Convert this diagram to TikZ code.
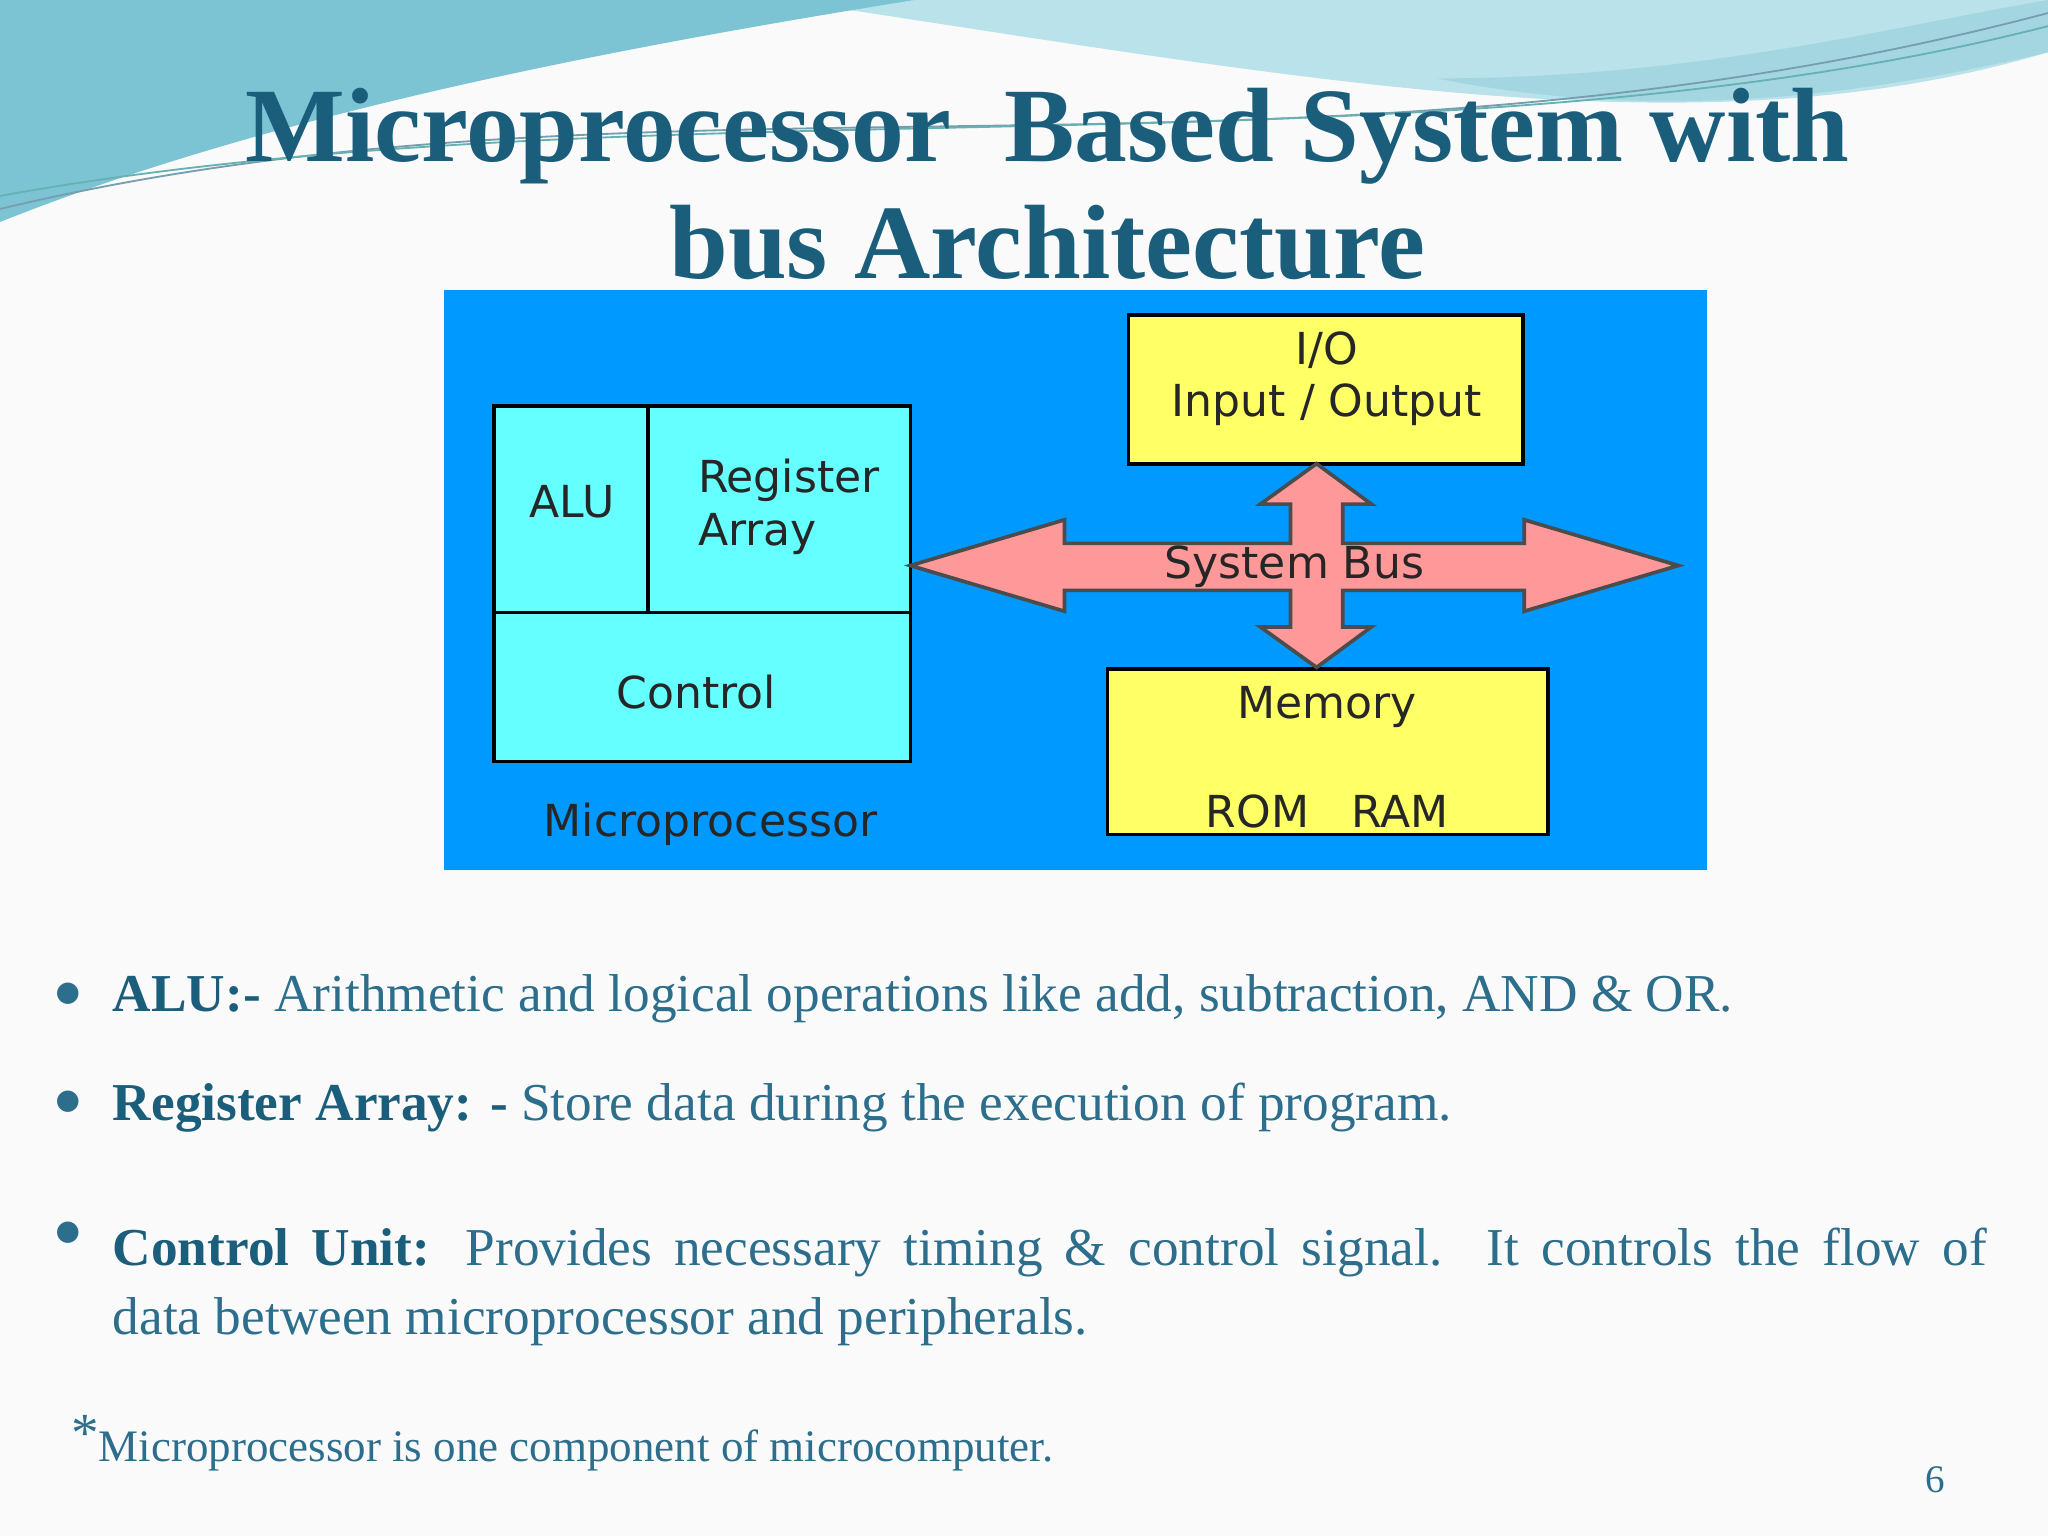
\documentclass[tikz,border=0pt]{standalone}
\usepackage{fontspec}
\setmainfont{Liberation Serif}
\newfontfamily\diagfont{DejaVu Sans}
\definecolor{titleteal}{HTML}{1B5E7B}
\definecolor{bodyteal}{HTML}{2C6E8C}
\definecolor{busblue}{HTML}{0099FF}
\definecolor{cpucyan}{HTML}{66FFFF}
\definecolor{boxyellow}{HTML}{FFFF66}
\definecolor{buspink}{HTML}{FF9999}
\definecolor{waveA}{HTML}{7CC4D4}
\definecolor{waveB}{HTML}{B9E2EA}
\tikzset{
	unit/.style={draw=black,thick,fill=cpucyan},
	part/.style={draw=black,thick,fill=boxyellow},
	lbl/.style={font=\diagfont\fontsize{9.6}{11.5}\selectfont,text=black!85},
	bullet/.style={anchor=west,font=\fontsize{11.6}{15}\selectfont,text=bodyteal},
}
\begin{document}
\begin{tikzpicture}[x=0.01cm,y=-0.01cm]
	\useasboundingbox (0,0) rectangle (1568,1176);
	\fill[white!96!gray] (0,0) rectangle (1568,1176);
	% waves
	\fill[waveB] (600,0) -- (1568,0) -- (1568,40) .. controls (1300,120) and (1000,60) .. (600,0);
	\fill[waveA] (0,0) -- (700,0) .. controls (450,40) and (200,90) .. (0,170) -- cycle;
	\fill[waveA!70!white] (1100,60) .. controls (1300,60) and (1450,20) .. (1568,0) -- (1568,40) .. controls (1400,80) and (1250,90) .. (1100,60);
	\draw[titleteal!60] (0,160) .. controls (500,40) and (1000,160) .. (1568,10);
	\draw[teal!60] (0,150) .. controls (500,60) and (1100,140) .. (1568,20);
	% title
	\node[font=\bfseries\fontsize{23}{28}\selectfont,text=titleteal] (t1) at (802,104) {Microprocessor\ \ Based System with};
	\node[font=\bfseries\fontsize{23}{28}\selectfont,text=titleteal] (t2) at (802,186) {bus Architecture};
	% diagram
	\fill[busblue] (340,222) rectangle (1307,666);
	\draw[unit] (378,311) rectangle (697,583);
	\draw[thick] (378,469) -- (697,469);
	\draw[thick] (496,311) -- (496,469);
	\node[lbl] (alu) at (438,384) {ALU};
	\node[lbl,align=left,anchor=west] (reg) at (522,388) {Register\\Array};
	\node[lbl] (ctl) at (533,530) {Control};
	\node[lbl] (cpu) at (544,631) {Microprocessor};
	\draw[part] (864,241) rectangle (1166,355);
	\node[lbl,align=center] (io) at (1016,290) {I/O\\Input / Output};
	\draw[part] (848,512) rectangle (1185,639);
	\node[lbl] (mem) at (1016,541) {Memory};
	\node[lbl] (rom) at (1016,621) {ROM\ \ \ RAM};
	% system bus arrow
	\draw[fill=buspink,draw=black!70,thick] (697,433) -- (815,398) -- (815,416) -- (988,416) -- (988,386) -- (965,386)
		-- (1008,355) -- (1050,386) -- (1028,386) -- (1028,416) -- (1167,416) -- (1167,398) -- (1285,433)
		-- (1167,468) -- (1167,452) -- (1028,452) -- (1028,480) -- (1050,480) -- (1008,511) -- (965,480)
		-- (988,480) -- (988,452) -- (815,452) -- (815,468) -- cycle;
	\node[lbl] (bus) at (991,434) {System Bus};
	% bullets
	\foreach \y in {765,848,948}
		{
		\node[text=bodyteal,font=\fontsize{12}{12}\selectfont] at (52,\y-3) {$\bullet$};
		}
	\node[bullet] (b1) at (74,765) {\textbf{\color{titleteal}ALU:-} Arithmetic and logical operations like add, subtraction, AND \& OR.};
	\node[bullet] (b2) at (74,848) {\textbf{\color{titleteal}Register Array: -} Store data during the execution of program.};
	\node[bullet,anchor=north west,text width=14.34cm,align=justify] (b3) at (74,928) {\textbf{\color{titleteal}Control Unit:} Provides necessary timing \& control signal. It controls the flow of\linebreak data between microprocessor and peripherals.};
	\node[anchor=west,text=bodyteal,font=\fontsize{9.8}{11}\selectfont] (note) at (42,1105) {\raisebox{0.5ex}{\fontsize{12}{12}\selectfont *}Microprocessor is one component of microcomputer.};
	\node[text=bodyteal,font=\fontsize{8.5}{10}\selectfont] (pg) at (1482,1133) {6};
\end{tikzpicture}
\end{document}
